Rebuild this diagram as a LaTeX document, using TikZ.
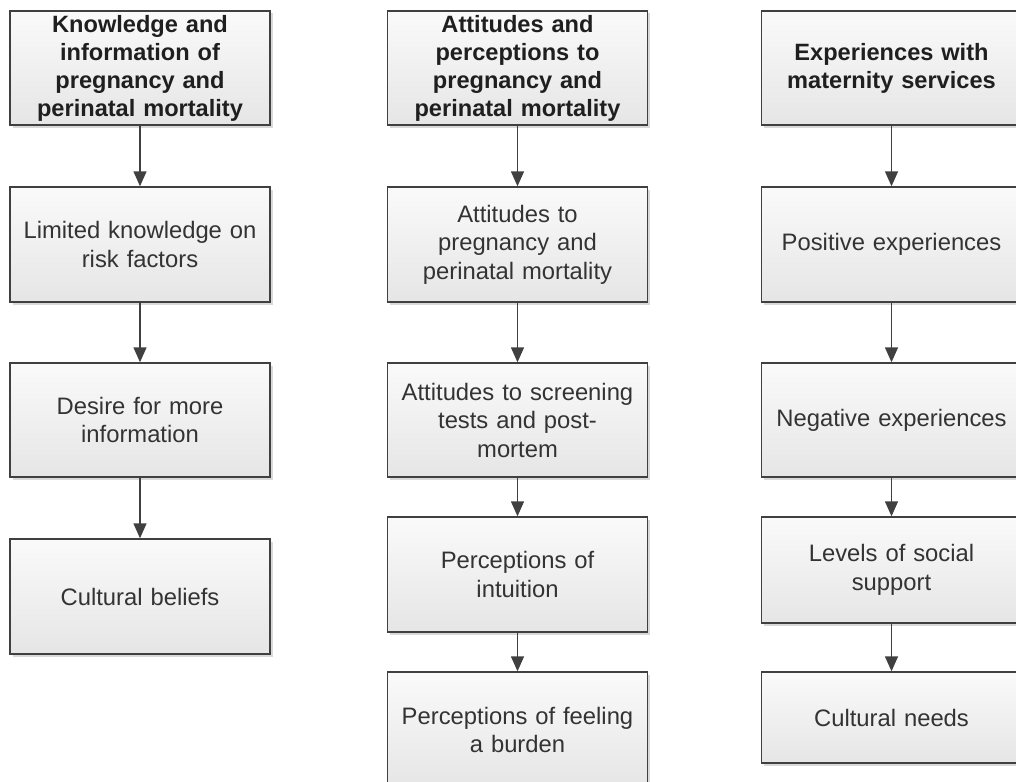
\documentclass[tikz,border=0pt]{standalone}
\usepackage{fontspec}
\setmainfont{Liberation Sans}
\usetikzlibrary{arrows.meta,shadows}
\definecolor{edge}{HTML}{404040}
\definecolor{ink}{HTML}{333333}
\begin{document}
\begin{tikzpicture}[x=1pt,y=-1pt,
  box/.style={draw=edge, line width=1.4pt, rectangle, inner sep=0pt,
    minimum width=260pt, text width=252pt, align=center,
    top color=black!2, bottom color=black!10,
    font=\fontsize{23.8}{28.5}\selectfont, text=ink,
    drop shadow={shadow xshift=2.5pt, shadow yshift=-2.5pt, opacity=0.15, fill=black}},
  head/.style={box, font=\bfseries\fontsize{23.6}{28}\selectfont, text=black!88},
  link/.style={draw=edge, line width=1.4pt, -{Triangle[length=15pt,width=13pt]}}]
\useasboundingbox (0,0) rectangle (1016,781);

% Knowledge and information
\node[head, minimum height=114pt] (k0) at (140,68) {Knowledge and\\information of\\pregnancy and\\perinatal mortality};
\node[box, minimum height=115pt] (k1) at (140,244.5) {Limited knowledge on\\risk factors};
\node[box, minimum height=114pt] (k2) at (140,420) {Desire for more\\information};
\node[box, minimum height=115pt] (k3) at (140,596.5) {Cultural beliefs};

% Attitudes and perceptions
\node[head, minimum height=114pt] (a0) at (517.5,68) {Attitudes and\\perceptions to\\pregnancy and\\perinatal mortality};
\node[box, minimum height=115pt] (a1) at (517.5,244.5) {Attitudes to\\pregnancy and\\perinatal mortality};
\node[box, minimum height=114pt] (a2) at (517.5,420) {Attitudes to screening\\tests and post-\\mortem};
\node[box, minimum height=115pt] (a3) at (517.5,574.5) {Perceptions of\\intuition};
\node[box, minimum height=116pt] (a4) at (517.5,730) {Perceptions of feeling\\a burden};

% Experiences with maternity services
\node[head, minimum height=114pt] (e0) at (891.5,68) {Experiences with\\maternity services};
\node[box, minimum height=115pt] (e1) at (891.5,244.5) {Positive experiences};
\node[box, minimum height=114pt] (e2) at (891.5,420) {Negative experiences};
\node[box, minimum height=106pt] (e3) at (891.5,570) {Levels of social\\support};
\node[box, minimum height=91pt] (e4) at (891.5,717.5) {Cultural needs};

% Connectors
\draw[link] (k0.south) -- (k1.north);
\draw[link] (k1.south) -- (k2.north);
\draw[link] (k2.south) -- (k3.north);
\draw[link] (a0.south) -- (a1.north);
\draw[link] (a1.south) -- (a2.north);
\draw[link] (a2.south) -- (a3.north);
\draw[link] (a3.south) -- (a4.north);
\draw[link] (e0.south) -- (e1.north);
\draw[link] (e1.south) -- (e2.north);
\draw[link] (e2.south) -- (e3.north);
\draw[link] (e3.south) -- (e4.north);
\end{tikzpicture}
\end{document}
